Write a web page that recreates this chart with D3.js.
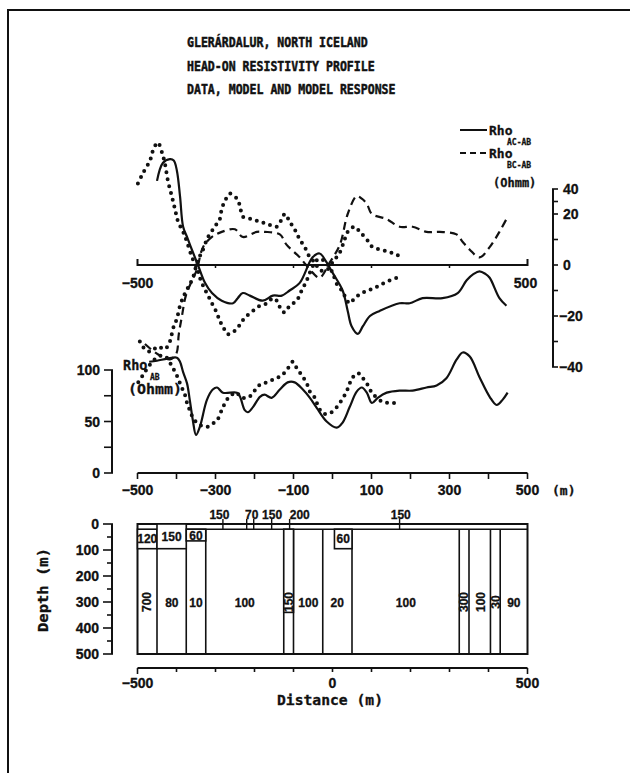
<!DOCTYPE html>
<html><head><meta charset="utf-8">
<script src="https://cdn.jsdelivr.net/npm/d3@7"></script>
<style>body{margin:0;background:#fff}svg{display:block}</style>
</head><body>
<svg id="c" width="630" height="773"></svg>
<script>
// ---------------- DATA ----------------
const titleLines = ["GLERÁRDALUR, NORTH ICELAND", "HEAD-ON RESISTIVITY PROFILE", "DATA, MODEL AND MODEL RESPONSE"];

// Upper panel: differences Rho_AC-AB and Rho_BC-AB (Ohmm) vs distance (m)
const acModel = [[-450,33],[-435,40],[-417,41.5],[-407,41],[-399,37],[-391,27],[-383,15],[-373,11],[-358,5],[-345,0],[-327,-7],[-309,-11],[-284,-14],[-255,-15],[-243,-13],[-230,-11],[-212,-12],[-179,-14],[-153,-12],[-130,-12],[-110,-10],[-84,-7],[-51,3],[-33,4.5],[-15,1],[0,-3],[26,-10],[39,-18],[49,-24],[65,-27],[78,-24],[96,-20],[121,-18],[172,-15],[198,-15],[231,-13],[282,-13],[321,-11],[344,-6],[362,-3.5],[377,-2.5],[392,-3.5],[403,-5],[428,-13],[446,-16]];
const bcModel = [[-481,-31],[-448,-35],[-417,-37],[-401,-35],[-394,-27],[-386,-20],[-376,-12],[-360,-6],[-348,-2],[-332,7],[-309,11],[-284,13],[-250,14],[-230,11],[-194,13],[-174,13],[-135,12],[-118,8],[-84,3],[-51,-3],[-33,-5],[-7,1],[19,8],[39,20],[62,27],[75,26],[88,24],[101,20],[139,18],[172,15],[205,15],[241,13],[275,13],[318,12],[334,9],[352,6],[377,3],[403,7],[428,13],[446,18]];
const acData = [[-499,32],[-486,36],[-468,41],[-460,45],[-448,48],[-437,44],[-430,40],[-422,33],[-412,27],[-404,22],[-396,17],[-383,13],[-373,9],[-360,3],[-348,-1],[-340,-5],[-332,-8],[-319,-12],[-309,-15],[-296,-19],[-289,-22],[-281,-24],[-271,-27],[-263,-27],[-245,-25],[-232,-22],[-220,-20],[-204,-18],[-186,-16],[-168,-15],[-153,-13],[-143,-14],[-130,-18],[-122,-18.5],[-110,-16],[-92,-14],[-79,-10],[-66,-6],[-58,-3],[-45,1],[-33,2.5],[-17,1],[-7,-1],[0,-3],[5,-5],[13,-8],[24,-10],[31,-12],[44,-15],[57,-13],[75,-11],[91,-10],[108,-9],[126,-7.5],[147,-6],[165,-5],[172,-5]];
const bcData = [[-494,-30],[-481,-33],[-466,-34],[-448,-32],[-430,-33],[-417,-30],[-409,-25],[-399,-21],[-391,-16],[-381,-12],[-371,-9],[-358,-5],[-345,2],[-335,5],[-319,11],[-302,15],[-289,18],[-284,22],[-276,25],[-263,28],[-245,26],[-237,23],[-230,19],[-207,18],[-186,17],[-166,16],[-143,15],[-130,18],[-122,20],[-110,17],[-97,14],[-84,10],[-71,7],[-58,3],[-45,1],[-33,-2],[-15,-2],[0,1],[19,5],[31,10],[39,13],[57,15],[70,13],[88,10],[103,7],[126,6],[147,5],[165,4],[180,3]];

// Lower panel: Rho_AB (Ohmm)
const abModel = [[-470,108],[-450,109],[-424,111],[-399,112],[-391,108],[-383,98],[-373,87],[-366,71],[-358,51],[-350,37],[-340,45],[-322,71],[-307,81],[-296,83],[-281,78],[-245,78],[-237,74],[-225,61],[-217,59],[-204,64],[-186,74],[-174,76],[-156,73],[-135,81],[-115,88],[-97,88],[-76,81],[-58,73],[-40,63],[-15,50],[11,44],[26,49],[44,64],[62,79],[75,83],[88,78],[101,68],[116,73],[139,78],[172,80],[205,80],[241,83],[267,85],[292,92],[318,110],[334,117],[352,113],[377,93],[403,74],[421,66],[436,71],[449,78]];
const abData = [[-498,88],[-486,95],[-474,102],[-462,108],[-450,112],[-437,114],[-425,112],[-415,106],[-405,99],[-396,92],[-388,84],[-380,78],[-373,68],[-365,60],[-357,53],[-345,48],[-330,45],[-319,45],[-307,48],[-296,51],[-284,61],[-271,71],[-258,76],[-245,78],[-237,74],[-220,73],[-207,76],[-194,83],[-181,87],[-168,88],[-156,90],[-143,92],[-130,95],[-117,100],[-102,108],[-92,102],[-79,95],[-66,87],[-58,79],[-45,73],[-38,66],[-25,58],[-7,58],[11,64],[24,71],[36,79],[44,87],[52,93],[65,97],[78,92],[91,85],[101,78],[129,69],[152,68],[167,68]];

// Axis ticks
const distTicks = [-500,-300,-100,100,300,500];
const upperTicks = [-40,-20,0,20,40];
const lowerTicks = [0,50,100];
const depthTicks = [0,100,200,300,400,500];
const modelDistTicks = [-500,0,500];

// Model section: blocks [x0, x1, depth0, depth1, label, rotated]
const modelBlocks = [
  [-500,-450,20,95,"120",false],
  [-450,-375,0,95,"150",false],
  [-375,-325,20,65,"60",false],
  [-125,-100,20,340,"150",true],
  [5,50,20,95,"60",false]
];
const modelBounds = [[-450,95],[-375,0],[-325,20],[-125,20],[-100,20],[-25,20],[50,20],[325,20],[350,20],[405,20],[430,20]];
const modelLabels = [[-475,300,"700",true],[-412,300,"80",false],[-350,300,"10",false],[-225,300,"100",false],[-62,300,"100",false],[12,300,"20",false],[188,300,"100",false],[338,300,"300",true],[380,300,"100",true],[418,300,"30",true],[465,300,"90",false]];
const surfaceLabels = [[-290,"150"],[-207,"70"],[-155,"150"],[-84,"200"],[175,"150"]];
const surfaceTicks = [-281,-220,-202,-156,-110,172];

// ---------------- DRAW ----------------
const svg = d3.select("#c");
const ink = "#111";
const mono = "'DejaVu Sans Mono', monospace";
const sans = "'Liberation Sans', Arial, sans-serif";

const x = d3.scaleLinear().domain([-500,500]).range([137.5,527.5]);
const yU = d3.scaleLinear().domain([-40,40]).range([367,163]);
const yUAxis = d3.scaleLinear().domain([-40,0,20,40]).range([367,265,214,189]);
const yL = d3.scaleLinear().domain([0,100]).range([473,370]);
const yD = d3.scaleLinear().domain([0,500]).range([524,654]);

// frame
svg.append("path").attr("d","M8,773 L8,10 L630,10").attr("fill","none").attr("stroke",ink).attr("stroke-width",2);

// title
svg.selectAll("text.title").data(titleLines).join("text")
  .attr("x",187).attr("y",(d,i)=>47+i*23.5)
  .attr("font-family",mono).attr("font-weight","bold").attr("font-size",13.8)
  .attr("textLength",d=>d.length*6.95).attr("lengthAdjust","spacingAndGlyphs")
  .attr("fill",ink).attr("stroke",ink).attr("stroke-width",0.5).text(d=>d);

function txt(g,xx,yy,s,size,anchor,fam,extra){
  const t=g.append("text").attr("x",xx).attr("y",yy).attr("font-family",fam||mono).attr("font-weight","bold")
    .attr("font-size",size).attr("text-anchor",anchor||"start").attr("fill",ink)
    .attr("stroke",ink).attr("stroke-width",0.3).text(s);
  if(extra) extra(t);
  return t;
}
const line = (g,x1,y1,x2,y2,w)=>g.append("line").attr("x1",x1).attr("y1",y1).attr("x2",x2).attr("y2",y2).attr("stroke",ink).attr("stroke-width",w||1.6);

const axes = svg.append("g");
// upper zero axis
line(axes,x(-500),yU(0),x(500),yU(0),2);
line(axes,x(-500),yU(0)+1,x(-500),yU(0)-6,2);
line(axes,x(500),yU(0)+1,x(500),yU(0)-6,2);
[-300,-100,100,300].forEach(v=>line(axes,x(v),yU(0),x(v),yU(0)+3,1.5));
txt(axes,x(-500),288,"−500",14,"middle",sans);
txt(axes,x(500)-2,288,"500",14,"middle",sans);

// right axis
const rx=553;
line(axes,rx,yUAxis(40),rx,yUAxis(-40),2);
d3.range(-40,41,10).forEach(v=>line(axes,rx-1,yUAxis(v),rx+5,yUAxis(v),1.6));
upperTicks.forEach(v=>txt(axes,v<0?559:563,yUAxis(v)+5,v<0?"−"+Math.abs(v):String(v),14,"start",sans));

// legend
const lg = svg.append("g");
line(lg,460,130,487,130,2);
lg.append("line").attr("x1",460).attr("y1",153).attr("x2",487).attr("y2",153).attr("stroke",ink).attr("stroke-width",2).attr("stroke-dasharray","6,4");
txt(lg,489,135,"Rho",13);
txt(lg,507,145,"AC-AB",8);
txt(lg,489,158,"Rho",13);
txt(lg,507,168,"BC-AB",8);
txt(lg,493,187,"(Ohmm)",12);

// lower left axis
line(axes,112,yL(100),112,yL(0),2);
d3.range(0,101,25).forEach(v=>line(axes,104,yL(v),113,yL(v),1.6));
lowerTicks.forEach(v=>txt(axes,100,yL(v)+5,String(v),14,"end",sans));
// lower x axis
line(axes,x(-500),yL(0),x(500),yL(0),2);
d3.range(-500,501,100).forEach(v=>line(axes,x(v),yL(0),x(v),yL(0)+6,1.6));
distTicks.forEach(v=>txt(axes,x(v),495,v<0?"−"+Math.abs(v):String(v),14,"middle",sans));
txt(axes,552,495,"(m)",13,"start",mono);
txt(axes,123,370,"Rho",13.5);
txt(axes,150,380,"AB",8);
txt(axes,128,394,"(Ohmm)",13.5,"start",mono,t=>t.attr("textLength",54).attr("lengthAdjust","spacingAndGlyphs"));

// curves
const lnU = d3.line().x(d=>x(d[0])).y(d=>yU(d[1])).curve(d3.curveCatmullRom);
const lnL = d3.line().x(d=>x(d[0])).y(d=>yL(d[1])).curve(d3.curveCatmullRom);
const curves = svg.append("g").attr("fill","none").attr("stroke",ink);
curves.append("path").attr("d",lnU(acModel)).attr("stroke-width",2.2);
curves.append("path").attr("d",lnU(bcModel)).attr("stroke-width",2.2).attr("stroke-dasharray","8,5");
curves.append("path").attr("d",lnU(acData)).attr("stroke-width",4).attr("stroke-linecap","round").attr("stroke-dasharray","0,7");
curves.append("path").attr("d",lnU(bcData)).attr("stroke-width",4).attr("stroke-linecap","round").attr("stroke-dasharray","0,7");
curves.append("path").attr("d",lnL(abModel)).attr("stroke-width",2.2);
curves.append("path").attr("d",lnL(abData)).attr("stroke-width",4).attr("stroke-linecap","round").attr("stroke-dasharray","0,7");

// model section
const mg = svg.append("g");
line(mg,112,yD(0),112,yD(500),2);
d3.range(0,501,50).forEach(v=>line(mg,v%100===0?103:107,yD(v),113,yD(v),1.6));
depthTicks.forEach(v=>txt(mg,99,yD(v)+5,String(v),14,"end",sans));
txt(mg,0,0,"Depth (m)",14,"middle",mono,t=>t.attr("transform","translate(48,590) rotate(-90)").attr("textLength",84).attr("lengthAdjust","spacingAndGlyphs"));
mg.append("rect").attr("x",x(-500)).attr("y",yD(0)).attr("width",x(500)-x(-500)).attr("height",yD(500)-yD(0)).attr("fill","none").attr("stroke",ink).attr("stroke-width",2);
line(mg,x(-375),yD(20),x(500),yD(20),1.6);
modelBounds.forEach(b=>line(mg,x(b[0]),yD(b[1]),x(b[0]),yD(500),1.6));
modelBlocks.forEach(b=>{
  mg.append("rect").attr("x",x(b[0])).attr("y",yD(b[2])).attr("width",x(b[1])-x(b[0])).attr("height",yD(b[3])-yD(b[2])).attr("fill","#fff").attr("stroke",ink).attr("stroke-width",1.6);
  const cx=(x(b[0])+x(b[1]))/2, cy=(yD(b[2])+yD(b[3]))/2;
  if(b[5]) txt(mg,0,0,b[4],12,"middle",sans,t=>t.attr("transform",`translate(${cx+4},${yD(300)}) rotate(-90)`));
  else txt(mg,cx,cy+4.5,b[4],12,"middle",sans);
});
modelLabels.forEach(l=>{
  if(l[3]) txt(mg,0,0,l[2],12,"middle",sans,t=>t.attr("transform",`translate(${x(l[0])+4},${yD(l[1])}) rotate(-90)`));
  else txt(mg,x(l[0]),yD(l[1])+4.5,l[2],12,"middle",sans);
});
surfaceLabels.forEach(l=>txt(mg,x(l[0]),519,l[1],12,"middle",sans));
surfaceTicks.forEach(v=>line(mg,x(v),519,x(v),yD(20),1.4));

// distance axis
const dy=668;
line(mg,x(-500),dy,x(500),dy,2);
d3.range(-500,501,100).forEach(v=>line(mg,x(v),dy,x(v),dy+(Math.abs(v)===500?6:4),1.6));
modelDistTicks.forEach(v=>txt(mg,x(v),688,v<0?"−"+Math.abs(v):String(v),14,"middle",sans));
txt(mg,330,705,"Distance (m)",13.5,"middle",mono,t=>t.attr("textLength",106).attr("lengthAdjust","spacingAndGlyphs"));
</script>
</body></html>
